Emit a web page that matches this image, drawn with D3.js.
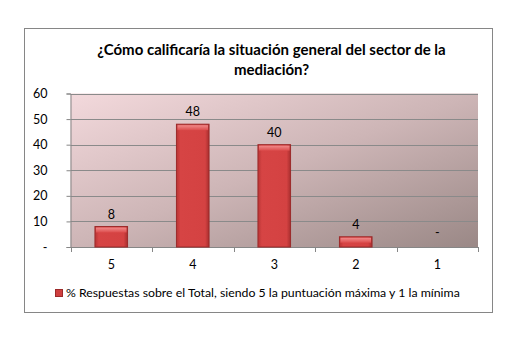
<!DOCTYPE html>
<html lang="es">
<head>
<meta charset="UTF-8">
<title>Situación general del sector de la mediación</title>
<script src="https://d3js.org/d3.v7.min.js"></script>
<style>
    body { margin: 0; background: #ffffff; }
    text { font-family: Lato, "Open Sans", sans-serif; fill: #000; }
    .axis-text { font-size: 12.5px; }
    .title { font-size: 15px; font-weight: bold; text-anchor: middle; }
    .data-label { font-size: 12.5px; text-anchor: middle; }
    .legend-text { font-size: 12.3px; }
</style>
</head>
<body>
<script>
    var w = 514;
    var h = 351;

    var categories = ["5", "4", "3", "2", "1"];
    var values = [8, 48, 40, 4, 0];
    var yTicks = [0, 10, 20, 30, 40, 50, 60];
    var titleLines = ["¿Cómo calificaría la situación general del sector de la", "mediación?"];
    var seriesName = "% Respuestas sobre el Total, siendo 5 la puntuación máxima y 1 la mínima";

    var plot = { left: 70.5, right: 478, top: 93.5, bottom: 247 };

    var svg = d3.select("body")
        .append("svg")
        .attr("width", w)
        .attr("height", h);

    var defs = svg.append("defs");

    var bg = defs.append("linearGradient")
        .attr("id", "bgGrad")
        .attr("x1", "0%").attr("y1", "0%")
        .attr("x2", "100%").attr("y2", "100%");
    bg.append("stop").attr("offset", "0%").attr("stop-color", "#f3d9dc");
    bg.append("stop").attr("offset", "50%").attr("stop-color", "#cdb5b6");
    bg.append("stop").attr("offset", "100%").attr("stop-color", "#9a8886");

    var barGrad = defs.append("linearGradient")
        .attr("id", "barGrad")
        .attr("x1", "0%").attr("y1", "0%")
        .attr("x2", "100%").attr("y2", "0%");
    barGrad.append("stop").attr("offset", "0%").attr("stop-color", "#b83434");
    barGrad.append("stop").attr("offset", "12%").attr("stop-color", "#d64444");
    barGrad.append("stop").attr("offset", "88%").attr("stop-color", "#d44242");
    barGrad.append("stop").attr("offset", "100%").attr("stop-color", "#a82e2e");

    var topGrad = defs.append("linearGradient")
        .attr("id", "topGrad")
        .attr("x1", "0%").attr("y1", "0%")
        .attr("x2", "0%").attr("y2", "100%");
    topGrad.append("stop").attr("offset", "0%").attr("stop-color", "#f08a8a");
    topGrad.append("stop").attr("offset", "100%").attr("stop-color", "#dc4c4c");

    // outer chart frame
    svg.append("rect")
        .attr("x", 24.5)
        .attr("y", 28.5)
        .attr("width", 468)
        .attr("height", 284)
        .attr("fill", "#ffffff")
        .attr("stroke", "#868686")
        .attr("stroke-width", 1);

    // title
    svg.selectAll(".title")
        .data(titleLines)
        .enter()
        .append("text")
        .attr("class", "title")
        .attr("x", 271.5)
        .attr("y", function (d, i) { return 55 + i * 20; })
        .text(function (d) { return d; });

    var xScale = d3.scaleBand()
        .domain(categories)
        .range([plot.left, plot.right])
        .paddingInner(0.6)
        .paddingOuter(0.3);

    var xBand = d3.scaleBand()
        .domain(categories)
        .range([plot.left, plot.right]);

    var yScale = d3.scaleLinear()
        .domain([0, 60])
        .range([plot.bottom, plot.top]);

    // plot background
    svg.append("rect")
        .attr("x", plot.left)
        .attr("y", plot.top)
        .attr("width", plot.right - plot.left)
        .attr("height", plot.bottom - plot.top)
        .attr("fill", "url(#bgGrad)");

    // gridlines
    svg.selectAll(".grid")
        .data(yTicks.slice(1))
        .enter()
        .append("line")
        .attr("class", "grid")
        .attr("x1", plot.left)
        .attr("x2", plot.right)
        .attr("y1", function (d) { return Math.round(yScale(d)) + 0.5; })
        .attr("y2", function (d) { return Math.round(yScale(d)) + 0.5; })
        .attr("stroke", "#8a8a8a")
        .attr("stroke-width", 1);

    // y axis
    var yAxis = d3.axisLeft(yScale)
        .tickValues(yTicks)
        .tickSize(4)
        .tickPadding(19)
        .tickFormat(function (d) { return d === 0 ? "-" : d; });

    var yG = svg.append("g")
        .attr("transform", "translate(" + plot.left + ",0)")
        .call(yAxis);
    yG.selectAll("path, line").attr("stroke", "#868686");
    yG.selectAll(".tick text").attr("class", "axis-text").attr("font-family", null).attr("font-size", null);

    // x axis: ticks at category boundaries
    var xAxis = d3.axisBottom(xBand)
        .tickSize(0)
        .tickPadding(13);

    var xG = svg.append("g")
        .attr("transform", "translate(0," + plot.bottom + ")")
        .call(xAxis);
    xG.select("path").remove();
    xG.selectAll(".tick text").attr("class", "axis-text").attr("font-family", null).attr("font-size", null);

    svg.append("line")
        .attr("x1", plot.left).attr("x2", plot.right)
        .attr("y1", plot.bottom + 0.5).attr("y2", plot.bottom + 0.5)
        .attr("stroke", "#868686");

    svg.selectAll(".xtick")
        .data(categories.concat(["end"]))
        .enter()
        .append("line")
        .attr("class", "xtick")
        .attr("x1", function (d, i) { return Math.round(plot.left + i * xBand.bandwidth()) + 0.5; })
        .attr("x2", function (d, i) { return Math.round(plot.left + i * xBand.bandwidth()) + 0.5; })
        .attr("y1", plot.bottom)
        .attr("y2", plot.bottom + 5)
        .attr("stroke", "#868686");

    // bars
    var bars = svg.selectAll(".bar")
        .data(values)
        .enter()
        .append("g")
        .attr("class", "bar")
        .filter(function (d) { return d > 0; });

    bars.append("rect")
        .attr("x", function (d, i) { return xScale(categories[values.indexOf(d)]); })
        .attr("y", function (d) { return yScale(d); })
        .attr("width", xScale.bandwidth())
        .attr("height", function (d) { return plot.bottom - yScale(d); })
        .attr("fill", "url(#barGrad)")
        .attr("stroke", "#9c2a2a")
        .attr("stroke-width", 1);

    bars.append("rect")
        .attr("x", function (d) { return xScale(categories[values.indexOf(d)]) + 1; })
        .attr("y", function (d) { return yScale(d) + 1; })
        .attr("width", xScale.bandwidth() - 2)
        .attr("height", 5)
        .attr("fill", "url(#topGrad)");

    // data labels
    svg.selectAll(".data-label")
        .data(values)
        .enter()
        .append("text")
        .attr("class", "data-label")
        .attr("x", function (d, i) { return xScale(categories[i]) + xScale.bandwidth() / 2; })
        .attr("y", function (d) { return d > 0 ? yScale(d) - 8 : yScale(d) - 10; })
        .text(function (d) { return d > 0 ? d : "-"; });

    // legend
    svg.append("rect")
        .attr("x", 55.5)
        .attr("y", 289.5)
        .attr("width", 7)
        .attr("height", 7)
        .attr("fill", "#cf3f3f")
        .attr("stroke", "#9c2a2a");

    svg.append("text")
        .attr("class", "legend-text")
        .attr("x", 66)
        .attr("y", 297)
        .text(seriesName);
</script>
</body>
</html>
